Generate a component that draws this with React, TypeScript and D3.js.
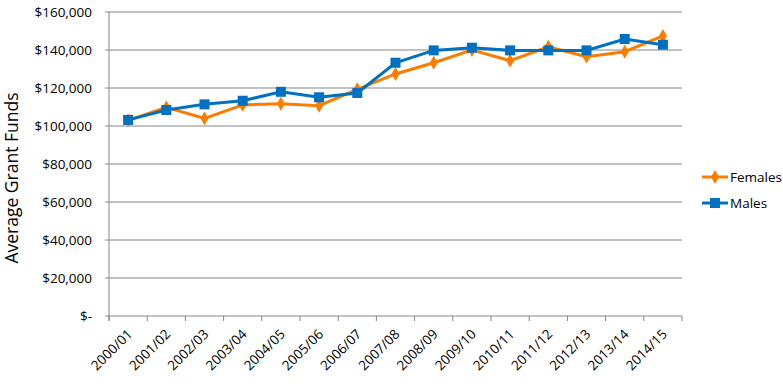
import React from "react";
import * as d3 from "d3";

const years = [
  "2000/01", "2001/02", "2002/03", "2003/04", "2004/05", "2005/06", "2006/07", "2007/08",
  "2008/09", "2009/10", "2010/11", "2011/12", "2012/13", "2013/14", "2014/15",
];

const females = [
  103000, 109800, 104000, 111100, 111700, 110700, 119300, 127400,
  133300, 140000, 134400, 141700, 136500, 139100, 147400,
];

const males = [
  103200, 108400, 111400, 113300, 118000, 115100, 117400, 133300,
  139800, 141200, 139800, 139800, 139800, 145800, 142800,
];

const yTicks = [0, 20000, 40000, 60000, 80000, 100000, 120000, 140000, 160000];

const font = "'Open Sans', 'Liberation Sans', sans-serif";
const orange = "#FA7D00";
const blue = "#0070C0";

export default function App() {
  const width = 783;
  const height = 384;
  const margin = { top: 12, right: 101, bottom: 68, left: 109 };

  const x = d3
    .scaleBand()
    .domain(years)
    .range([margin.left, width - margin.right]);

  const y = d3
    .scaleLinear()
    .domain([0, 160000])
    .range([height - margin.bottom, margin.top]);

  const cx = (d: string) => (x(d) as number) + x.bandwidth() / 2;

  const line = d3
    .line<number>()
    .x((_, i) => cx(years[i]))
    .y(d => y(d));

  const fmt = (v: number) => (v === 0 ? "$-" : "$" + d3.format(",")(v));
  const diamond = d3.symbol().type(d3.symbolDiamond).size(56)();

  const x0 = margin.left;
  const x1 = width - margin.right;
  const yBase = y(0);

  return (
    <svg width={width} height={height} style={{ position: "absolute", left: 0, top: 0 }}>
      <rect width={width} height={height} fill="#fff" />

      {/* gridlines and y ticks */}
      {yTicks.map(t => (
        <g key={t}>
          <line x1={x0 - 4} x2={x1} y1={y(t)} y2={y(t)} stroke="#868686" strokeWidth={1} />
          <text
            x={x0 - 17}
            y={y(t)}
            dy="0.35em"
            textAnchor="end"
            fontFamily={font}
            fontSize={13.5}
            fill="#000"
          >
            {fmt(t)}
          </text>
        </g>
      ))}

      {/* axis lines */}
      <line x1={x0} x2={x0} y1={margin.top} y2={yBase + 5} stroke="#868686" />
      {years.map((d, i) => (
        <line
          key={"t" + i}
          x1={x(d) as number}
          x2={x(d) as number}
          y1={yBase}
          y2={yBase + 5}
          stroke="#868686"
        />
      ))}
      <line x1={x1} x2={x1} y1={yBase} y2={yBase + 5} stroke="#868686" />

      {/* x labels */}
      {years.map(d => (
        <text
          key={d}
          transform={`translate(${cx(d) + 5},${yBase + 19}) rotate(-45)`}
          textAnchor="end"
          fontFamily={font}
          fontSize={13.5}
          fill="#000"
        >
          {d}
        </text>
      ))}

      {/* y title */}
      <text
        transform={`translate(18,${(margin.top + yBase) / 2 + 14}) rotate(-90)`}
        textAnchor="middle"
        fontFamily={font}
        fontSize={17.5}
        fill="#000"
      >
        Average Grant Funds
      </text>

      {/* females */}
      <path d={line(females) as string} fill="none" stroke={orange} strokeWidth={3} />
      {females.map((v, i) => (
        <path key={"f" + i} d={diamond as string} transform={`translate(${cx(years[i])},${y(v)})`} fill={orange} />
      ))}

      {/* males */}
      <path d={line(males) as string} fill="none" stroke={blue} strokeWidth={3} />
      {males.map((v, i) => (
        <rect key={"m" + i} x={cx(years[i]) - 5} y={y(v) - 5} width={10} height={10} fill={blue} />
      ))}

      {/* legend */}
      <g>
        <line x1={702} x2={728} y1={177} y2={177} stroke={orange} strokeWidth={3} />
        <path d={diamond as string} transform="translate(715,177)" fill={orange} />
        <text x={730} y={177} dy="0.35em" fontFamily={font} fontSize={13.5} fill="#000">
          Females
        </text>
        <line x1={702} x2={728} y1={203} y2={203} stroke={blue} strokeWidth={3} />
        <rect x={710} y={198} width={10} height={10} fill={blue} />
        <text x={730} y={203} dy="0.35em" fontFamily={font} fontSize={13.5} fill="#000">
          Males
        </text>
      </g>
    </svg>
  );
}
